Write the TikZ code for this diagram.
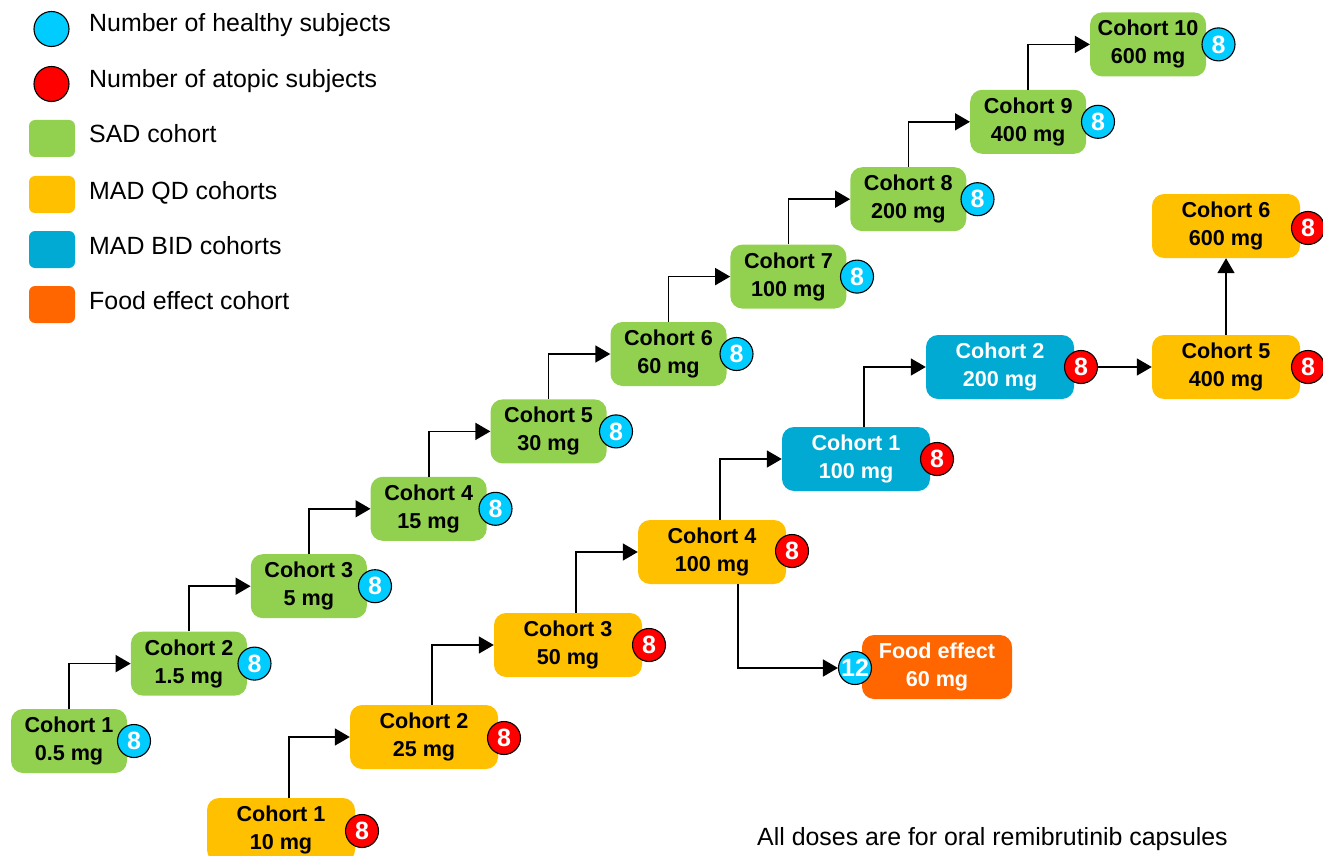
\documentclass[tikz,border=0pt]{standalone}
\usepackage{fontspec}
\setmainfont{Liberation Sans}
\usetikzlibrary{arrows.meta}
\definecolor{sadgreen}{HTML}{92D050}
\definecolor{madqd}{HTML}{FFC000}
\definecolor{madbid}{RGB}{0,170,210}
\definecolor{foodor}{HTML}{FF6600}
\definecolor{hblue}{HTML}{00CCFF}
\definecolor{ared}{HTML}{FF0000}
\tikzset{
  box/.style={rectangle, rounded corners=12pt, inner sep=0pt, minimum height=64pt, align=center,
    font=\bfseries\fontsize{21.6}{28}\selectfont},
  sadbox/.style={box, fill=sadgreen, minimum width=116pt},
  qdbox/.style={box, fill=madqd, minimum width=148pt},
  bidbox/.style={box, fill=madbid, minimum width=148pt, text=white},
  foodbox/.style={box, fill=foodor, minimum width=150pt, text=white},
  num/.style={circle, draw=black, line width=1.1pt, minimum size=33pt, inner sep=0pt, text=white,
    font=\bfseries\fontsize{25}{25}\selectfont},
  hnum/.style={num, fill=hblue},
  anum/.style={num, fill=ared},
  arr/.style={line width=1.6pt, -{Triangle[length=15pt,width=17pt]}},
  legsq/.style={rectangle, rounded corners=6pt, minimum width=46pt, minimum height=37pt, inner sep=0pt},
  legtxt/.style={anchor=base west, inner sep=0pt, font=\fontsize{24.9}{25}\selectfont},
}
\begin{document}
\begin{tikzpicture}[x=1pt,y=-1pt]
\useasboundingbox (0,0) rectangle (1323,856);
% legend
\node[hnum, minimum size=35pt] (lh) at (51.5,29) {};
\node[anum, minimum size=35pt] (la) at (51.5,84) {};
\node[legsq, fill=sadgreen] (ls) at (52,138.5) {};
\node[legsq, fill=madqd] (lq) at (52,194.5) {};
\node[legsq, fill=madbid] (lb) at (52,249.5) {};
\node[legsq, fill=foodor] (lf) at (52,304.5) {};
\node[legtxt] (tlh) at (89,32) {Number of healthy subjects};
\node[legtxt] (tla) at (89,88) {Number of atopic subjects};
\node[legtxt] (tls) at (89,143) {SAD cohort};
\node[legtxt] (tlq) at (89,199) {MAD QD cohorts};
\node[legtxt] (tlb) at (89,254) {MAD BID cohorts};
\node[legtxt] (tlf) at (89,309) {Food effect cohort};
% SAD cohorts
\foreach \i/\d in {1/0.5,2/1.5,3/5,4/15,5/30,6/60,7/100,8/200,9/400,10/600}{
  \pgfmathsetmacro{\bx}{69+119.9*(\i-1)}
  \pgfmathsetmacro{\by}{741-77.4*(\i-1)}
  \pgfmathsetmacro{\cx}{134+120.5*(\i-1)}
  \node[sadbox] (s\i) at (\bx,\by) {Cohort \i\\\d\ mg};
  \node[hnum] (s\i n) at (\cx,\by) {8};
}
\foreach \i [evaluate=\i as \j using int(\i+1)] in {1,...,9}{
  \draw[arr] (s\i.north) |- (s\j.west);
}
% MAD QD / BID
\node[qdbox] (m1) at (281,830) {Cohort 1\\10 mg};
\node[qdbox] (m2) at (424,737) {Cohort 2\\25 mg};
\node[qdbox] (m3) at (568,645) {Cohort 3\\50 mg};
\node[qdbox] (m4) at (712,552) {Cohort 4\\100 mg};
\node[bidbox] (b1) at (856,459) {Cohort 1\\100 mg};
\node[bidbox] (b2) at (1000,367) {Cohort 2\\200 mg};
\node[qdbox] (m5) at (1226,367) {Cohort 5\\400 mg};
\node[qdbox] (m6) at (1226,226) {Cohort 6\\600 mg};
\node[foodbox] (f) at (937,667) {Food effect\\60 mg};
\node[anum] (m1n) at (362,831) {8};
\node[anum] (m2n) at (504,738) {8};
\node[anum] (m3n) at (649,645) {8};
\node[anum] (m4n) at (792,551) {8};
\node[anum] (b1n) at (937,459) {8};
\node[anum] (b2n) at (1081,367) {8};
\node[anum] (m5n) at (1308,367) {8};
\node[anum] (m6n) at (1308,228) {8};
\node[hnum] (fn) at (855,668) {12};
\draw[arr] ([xshift=8pt]m1.north) |- (m2.west);
\draw[arr] ([xshift=8pt]m2.north) |- (m3.west);
\draw[arr] ([xshift=8pt]m3.north) |- (m4.west);
\draw[arr] ([xshift=8pt]m4.north) |- (b1.west);
\draw[arr] ([xshift=8pt]b1.north) |- (b2.west);
\draw[arr] (b2n.east) -- (m5.west);
\draw[arr] (m5.north) -- (m6.south);
\draw[arr] ([xshift=26pt]m4.south) |- (fn.west);
% note
\node[legtxt] (note) at (757,845) {All doses are for oral remibrutinib capsules};
\end{tikzpicture}
\end{document}
